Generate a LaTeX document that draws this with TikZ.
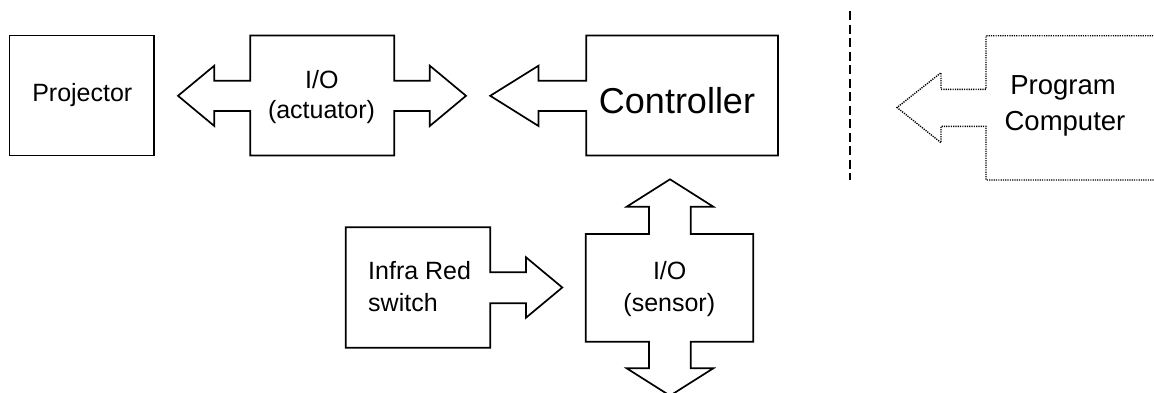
\documentclass[tikz,border=0pt]{standalone}
\usepackage{fontspec}
\setmainfont{Liberation Sans}
\begin{document}
\begin{tikzpicture}[x=1pt,y=-1pt,
  blk/.style={draw=black,line width=1.7pt,line join=miter},
  lbl/.style={anchor=base,inner sep=0pt,font=\fontsize{25}{30}\selectfont},
  big/.style={anchor=base,inner sep=0pt,font=\fontsize{36}{43}\selectfont},
  prog/.style={anchor=base,inner sep=0pt,font=\fontsize{27.5}{33}\selectfont},
  sepline/.style={draw=black,line width=1.6pt,dash pattern=on 9pt off 4.5pt},
  dotline/.style={draw=black,line width=1.4pt,dash pattern=on 1.2pt off 1.1pt}]
\useasboundingbox (0,0) rectangle (1154,392);
\clip (0,0) rectangle (1154,392);
\fill[white] (0,0) rectangle (1154,392);
% Projector
\draw[blk] (9.5,35.5) rectangle (154,155.5);
\node[lbl] (projector) at (82.3,101) {Projector};
% I/O actuator
\draw[blk] (250.3,35.5) -- (394.2,35.5) -- (394.2,80.7) -- (429.8,80.7) -- (429.8,65.7) -- (466,95.8) -- (429.8,126) -- (429.8,111) -- (394.2,111) -- (394.2,155.5) -- (250.3,155.5) -- (250.3,111) -- (214.3,111) -- (214.3,126) -- (178,95.8) -- (214.3,65.7) -- (214.3,80.7) -- (250.3,80.7) -- cycle;
\node[lbl] (ioa) at (321.8,88.3) {I/O};
\node[lbl] (act) at (321.5,118.7) {(actuator)};
% Controller
\draw[blk] (586.2,35.5) -- (778,35.5) -- (778,155.5) -- (586.2,155.5) -- (586.2,111) -- (538.5,111) -- (538.5,126) -- (490.2,95.8) -- (538.5,65.7) -- (538.5,80.7) -- (586.2,80.7) -- cycle;
\node[big] (ctrl) at (677,113.5) {Controller};
% separator
\draw[sepline] (850,11) -- (850,180);
% Program Computer
\draw[dotline] (1160,35.7) -- (986,35.7) -- (986,89.3) -- (941,89.3) -- (941,72.7) -- (897,107.5) -- (941,142.7) -- (941,126.3) -- (986,126.3) -- (986,180) -- (1160,180);
\node[prog] (prog1) at (1063,94) {Program};
\node[prog] (prog2) at (1065,130) {Computer};
% Infra Red switch
\draw[blk] (345.7,227.3) -- (490.3,227.3) -- (490.3,272.3) -- (526,272.3) -- (526,257.3) -- (562.3,287.5) -- (526,317.7) -- (526,303.3) -- (490.3,303.3) -- (490.3,347.7) -- (345.7,347.7) -- cycle;
\node[lbl,anchor=base west] (ir1) at (368,279.3) {Infra Red};
\node[lbl,anchor=base west] (ir2) at (368,311.7) {switch};
% I/O sensor
\draw[blk] (585.7,234) -- (649,234) -- (649,206.7) -- (626.7,206.7) -- (670,179.3) -- (713.3,206.7) -- (690.7,206.7) -- (690.7,234) -- (753.3,234) -- (753.3,341.7) -- (690.7,341.7) -- (690.7,368.3) -- (713.3,368.3) -- (670,395.7) -- (626.7,368.3) -- (649,368.3) -- (649,341.7) -- (585.7,341.7) -- cycle;
\node[lbl] (ios) at (669.7,279.3) {I/O};
\node[lbl] (sens) at (669.3,311.7) {(sensor)};
\end{tikzpicture}
\end{document}
